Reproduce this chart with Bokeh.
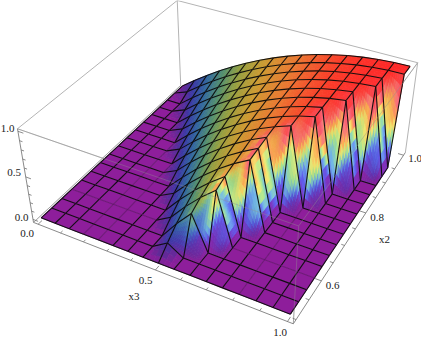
import numpy as np
from bokeh.plotting import figure
from bokeh.embed import file_html
from bokeh.resources import INLINE
from bokeh.models import Range1d
from bokeh.core.properties import value

# height of the surface on the mesh: rows are x2 mesh steps, columns x3 mesh steps
x3_mesh = [k / 16 for k in range(17)]
x2_mesh = [0.5 + k / 32 for k in range(17)]
z_rows = [
 [0,0,0,0,0,0,0,0,0,0,0,0,0,0,0,0,0],
 [0,0,0,0,0,0,0,0,.11,0,0,0,0,0,0,0,0],
 [0,0,0,0,0,0,0,0,.21,.395,0,0,0,0,0,0,0],
 [0,0,0,0,0,0,0,.10,.29,.457,.60,0,0,0,0,0,0],
 [0,0,0,0,0,0,0,.19,.36,.51,.64,0,0,0,0,0,0],
 [0,0,0,0,0,0,.09,.265,.42,.556,.674,.773,0,0,0,0,0],
 [0,0,0,0,0,0,.17,.33,.47,.595,.70,.793,0,0,0,0,0],
 [0,0,0,0,0,.085,.244,.388,.516,.63,.728,.811,0,0,0,0,0],
 [0,0,0,0,0,.16,.306,.4375,.556,.66,.75,.826,.889,0,0,0,0],
 [0,0,0,0,.078,.226,.36,.482,.59,.686,.77,.84,.898,.942,0,0,0],
 [0,0,0,0,.148,.284,.408,.521,.621,.71,.787,.852,.905,.947,0,0,0],
 [0,0,0,.073,.21,.336,.451,.556,.649,.731,.802,.863,.912,.951,.978,0,0],
 [0,0,0,.138,.265,.383,.49,.587,.673,.75,.816,.872,.918,.954,.98,0,0],
 [0,0,.068,.196,.315,.424,.524,.615,.696,.767,.829,.881,.924,.957,.981,.995,0],
 [0,0,.129,.249,.36,.462,.556,.64,.716,.782,.84,.889,.929,.96,.982,.996,0],
 [0,.064,.184,.297,.401,.496,.584,.663,.734,.796,.85,.896,.933,.963,.983,.996,1.0],
 [0,.121,.234,.34,.4375,.527,.609,.684,.75,.809,.859,.902,.9375,.965,.984,.996,1.0],
]
x3_ticks = [0, .1, .2, .3, .4, .5, .6, .7, .8, .9, 1.0]
x2_ticks = [.5, .55, .6, .65, .7, .75, .8, .85, .9, .95, 1.0]
z_ticks = [0, .1, .2, .3, .4, .5, .6, .7, .8, .9, 1.0]

# camera: where the eight corners of the unit box land in the picture
box3 = np.array([[0,0,0],[1,0,0],[1,1,0],[0,1,0],[0,0,1],[1,0,1],[1,1,1],[0,1,1]], float)
box2 = np.array([[33,222],[293,323],[405,152],[180,85],[17,128],[298,226],[417,62],[177,0]], float)
A = []
b = []
for (X, Y, Z), (x, y) in zip(box3, box2):
    A.append([X, Y, Z, 1, 0, 0, 0, 0, -x*X, -x*Y, -x*Z]); b.append(x)
    A.append([0, 0, 0, 0, X, Y, Z, 1, -y*X, -y*Y, -y*Z]); b.append(y)
cam = np.append(np.linalg.lstsq(np.array(A), np.array(b), rcond=None)[0], 1).reshape(3, 4)

def proj(u, v, w):
    u, v, w = np.broadcast_arrays(np.asarray(u, float), np.asarray(v, float), np.asarray(w, float))
    P = np.stack([u, v, w, np.ones_like(u)], -1) @ cam.T
    return P[..., 0] / P[..., 2], P[..., 1] / P[..., 2]

def U(x3): return .02 + .96 * np.asarray(x3, float)
def V(x2): return .02 + .96 * (np.asarray(x2, float) - .5) * 2
def W(z): return .035 + .94 * np.asarray(z, float)

dome_z = [0, .04, .12, .25, .38, .5, .65, .8, .93, 1]
dome_c = np.array([[142,30,155],[100,40,150],[60,55,165],[50,105,160],[85,145,110],[150,160,65],[205,155,50],[235,120,50],[250,62,42],[255,40,40]], float)
bright_z = [0, .1, .2, .32, .45, .58, .7, .82, .92, 1]
bright_c = np.array([[142,30,155],[125,50,190],[95,95,240],[115,185,235],[165,232,150],[243,235,115],[255,170,85],[248,110,130],[250,70,80],[255,48,48]], float)

def shade(z, s):
    out = []
    for zz, ss in zip(z, s):
        d = [np.interp(zz, dome_z, dome_c[:, k]) for k in range(3)]
        g = [np.interp(zz, bright_z, bright_c[:, k]) for k in range(3)]
        out.append("#%02x%02x%02x" % tuple(int(round(d[k] * (1 - ss) + g[k] * ss)) for k in range(3)))
    return out

Zg = np.array(z_rows, float)
d = np.zeros_like(Zg)
d[:-1, :] = np.maximum(d[:-1, :], np.abs(np.diff(Zg, axis=0)))
d[1:, :] = np.maximum(d[1:, :], np.abs(np.diff(Zg, axis=0)))
d[:, :-1] = np.maximum(d[:, :-1], np.abs(np.diff(Zg, axis=1)))
d[:, 1:] = np.maximum(d[:, 1:], np.abs(np.diff(Zg, axis=1)))
Sg = np.clip((d - .3) / .3, 0, 1)

p = figure(width=421, height=338, x_range=Range1d(0, 421), y_range=Range1d(338, 0),
           toolbar_location=None, output_backend="svg", min_border=0, outline_line_color=None)
p.axis.visible = False
p.grid.visible = False

def seg(a, c, **kw):
    xa, ya = proj(*a)
    xc, yc = proj(*c)
    p.line([float(xa), float(xc)], [float(ya), float(yc)], **kw)

idx = {"A":0,"B":1,"C":2,"D":3,"E":4,"F":5,"G":6,"H":7}
edges = ["AD","EH","HG","GF","EF","DH","CG","BF","AB","BC","AE"]
grey = "#b4b4b4"
for e in edges:
    dark = e in ("AB", "BC", "AE")
    seg(box3[idx[e[0]]], box3[idx[e[1]]], line_color="#8a8a8a" if dark else grey, line_width=1)

faint_x3 = {3, 4, 13}
faint_x2 = {3}
for j in range(15, -1, -1):
    xs, ys, zs, ss = [], [], [], []
    for i in range(16):
        corners = Zg[j:j+2, i:i+2]
        rng = corners.max() - corners.min()
        n = 1 if rng == 0 and corners.max() == 0 else (8 if rng > .3 else 3)
        for a in range(n):
            for c in range(n):
                fa = np.array([a, a+1, a+1, a]) / n
                fc = np.array([c, c, c+1, c+1]) / n
                zq = (corners[0,0]*(1-fa)*(1-fc) + corners[0,1]*fa*(1-fc) + corners[1,0]*(1-fa)*fc + corners[1,1]*fa*fc)
                sq = (Sg[j,i]*(1-fa)*(1-fc) + Sg[j,i+1]*fa*(1-fc) + Sg[j+1,i]*(1-fa)*fc + Sg[j+1,i+1]*fa*fc)
                x3q = x3_mesh[i] + fa / 16
                x2q = x2_mesh[j] + fc / 32
                px, py = proj(U(x3q), V(x2q), W(zq))
                xs.append(px.tolist()); ys.append(py.tolist())
                sm = sq.mean()
                stripe = np.sin(2 * np.pi * (fa.mean() - .5 * fc.mean()) + i * 1.1) * .16 * sm
                body = np.sin(np.pi * min(1.0, zq.mean()))
                zs.append(float(np.clip(zq.mean() + stripe * body, 0, 1))); ss.append(sm)
    cols = shade(zs, ss)
    p.patches(xs, ys, fill_color=cols, line_color=cols, line_width=0.8)
    lx, ly, la = [], [], []
    for jj in ((j + 1, j) if j == 0 else (j + 1,)):
        for i in range(16):
            px, py = proj(U([x3_mesh[i], x3_mesh[i+1]]), V([x2_mesh[jj]]*2), W(Zg[jj, i:i+2]))
            flat = Zg[jj, i] == 0 and Zg[jj, i+1] == 0
            al = 0.25 if (jj in faint_x2 and flat) else 0.95
            lx.append(px.tolist()); ly.append(py.tolist()); la.append(al)
    for i in range(0, 17):
        px, py = proj(U([x3_mesh[i]]*2), V([x2_mesh[j], x2_mesh[j+1]]), W(Zg[j:j+2, i]))
        flat = Zg[j, i] == 0 and Zg[j+1, i] == 0
        al = 0.25 if (i in faint_x3 and flat) else 0.95
        lx.append(px.tolist()); ly.append(py.tolist()); la.append(al)
    p.multi_line(lx, ly, line_color="#0c0c0c", line_alpha=la, line_width=1.1)

for e in ["EF", "BF", "GF", "AD"]:
    seg(box3[idx[e[0]]], box3[idx[e[1]]], line_color="#909090", line_width=1, line_alpha=.4)

tc = "#707070"
for t in x3_ticks:
    major = t in (0, .5, 1.0)
    seg((U(t), 0, 0), (U(t), .022 if major else .012, 0), line_color=tc, line_width=.8)
for t in x2_ticks:
    major = t in (.6, .8, 1.0)
    seg((1, V(t), 0), (.978 if major else .988, V(t), 0), line_color=tc, line_width=.8)
for t in z_ticks:
    major = t in (0, .5, 1.0)
    seg((0, 0, W(t)), (.022 if major else .012, 0, W(t)), line_color=tc, line_width=.8)

tx = [7, 13.5, 21, 26.5, 145, 279.5, 332, 376.5, 414.5, 133.5, 384]
ty = [128, 172, 217, 233, 280, 332, 285, 217, 158, 295, 238]
tt = ["1.0", "0.5", "0.0", "0.0", "0.5", "1.0", "0.6", "0.8", "1.0", "x3", "x2"]
p.text(tx, ty, text=tt, text_font=value("Liberation Serif"), text_font_size="11px",
       text_align="center", text_baseline="middle", text_color="#222222")

open("out.html", "w").write(file_html(p, INLINE))
